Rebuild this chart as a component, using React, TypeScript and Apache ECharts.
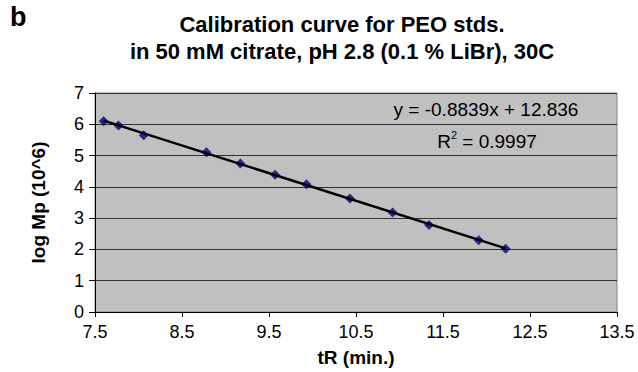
import React, { useEffect, useRef } from "react";
import * as echarts from "echarts";

const tR = [7.6, 7.77, 8.06, 8.78, 9.17, 9.57, 9.93, 10.43, 10.92, 11.34, 11.91, 12.22];
const logMp = [6.1, 5.96, 5.65, 5.11, 4.75, 4.39, 4.08, 3.63, 3.18, 2.78, 2.29, 2.02];
const slope = -0.8839;
const intercept = 12.836;
const eqText = "y = -0.8839x + 12.836";
const r2Text = "{t|R}{s|2}{t| = 0.9997}";
const titleLines = ["Calibration curve for PEO stds.", "in 50 mM citrate, pH 2.8 (0.1 % LiBr), 30C"];
const panelLabel = "b";
const xName = "tR (min.)";
const yName = "log Mp (10^6)";

const FONT = "'Liberation Sans', Arial, sans-serif";

export default function App() {
  const ref = useRef<HTMLDivElement>(null);
  useEffect(() => {
    if (!ref.current) return;
    document.body.style.margin = "0";
    document.body.style.overflow = "hidden";
    const chart = echarts.init(ref.current, undefined, { renderer: "svg" });
    const pts = tR.map((x, i) => [x, logMp[i]]);
    const x0 = Math.min(...tR);
    const x1 = Math.max(...tR);
    const trend = [
      [x0, slope * x0 + intercept],
      [x1, slope * x1 + intercept],
    ];
    chart.setOption({
      animation: false,
      backgroundColor: "#ffffff",
      textStyle: { fontFamily: FONT },
      title: {
        text: titleLines.join("\n"),
        left: 337,
        textAlign: "center",
        top: 6,
        textStyle: { fontFamily: FONT, fontWeight: "bold", fontSize: 22, color: "#000", lineHeight: 27 },
      },
      graphic: [
        {
          type: "text",
          left: 10,
          top: 3,
          style: { text: panelLabel, font: `bold 27px ${FONT}`, fill: "#000" },
        },
        {
          type: "text",
          x: 486,
          y: 109,
          style: { text: eqText, font: `19px ${FONT}`, fill: "#000", align: "center", verticalAlign: "middle" },
          z: 100,
        },
        {
          type: "text",
          x: 487,
          y: 140,
          style: {
            text: r2Text,
            align: "center",
            verticalAlign: "middle",
            rich: {
              t: { fontFamily: FONT, fontSize: 19, fill: "#000", lineHeight: 22, verticalAlign: "bottom" },
              s: { fontFamily: FONT, fontSize: 11, fill: "#000", lineHeight: 22, verticalAlign: "top", padding: [0, 0, 10, 0] },
            },
          },
          z: 100,
        },
      ],
      grid: {
        left: 95,
        right: 21,
        top: 93,
        bottom: 60,
        show: true,
        backgroundColor: "#c0c0c0",
        borderColor: "#808080",
        borderWidth: 1,
      },
      xAxis: {
        type: "value",
        min: 7.5,
        max: 13.5,
        interval: 1,
        name: xName,
        nameLocation: "middle",
        nameGap: 36,
        nameTextStyle: { fontFamily: FONT, fontWeight: "bold", fontSize: 19, color: "#000" },
        axisLine: { show: true, lineStyle: { color: "#000", width: 1 } },
        axisTick: { show: true, length: 5, lineStyle: { color: "#000" } },
        axisLabel: { fontFamily: FONT, fontSize: 18, color: "#000", margin: 11 },
        splitLine: { show: false },
      },
      yAxis: {
        type: "value",
        min: 0,
        max: 7,
        interval: 1,
        name: yName,
        nameLocation: "middle",
        nameGap: 47,
        nameTextStyle: { fontFamily: FONT, fontWeight: "bold", fontSize: 19, color: "#000" },
        axisLine: { show: true, lineStyle: { color: "#000", width: 1 } },
        axisTick: { show: true, length: 6, lineStyle: { color: "#000" } },
        axisLabel: { fontFamily: FONT, fontSize: 18, color: "#000", margin: 11 },
        splitLine: { show: true, lineStyle: { color: "#333333", width: 1 } },
      },
      series: [
        {
          type: "scatter",
          data: pts,
          symbol: "diamond",
          symbolSize: 10,
          itemStyle: { color: "#000080" },
          z: 3,
        },
        {
          type: "line",
          data: trend,
          showSymbol: false,
          symbol: "none",
          lineStyle: { color: "#000", width: 2.5 },
          z: 4,
        },
      ],
    });
    return () => chart.dispose();
  }, []);
  return <div ref={ref} style={{ position: "fixed", left: 0, top: 0, width: 638, height: 372 }} />;
}
